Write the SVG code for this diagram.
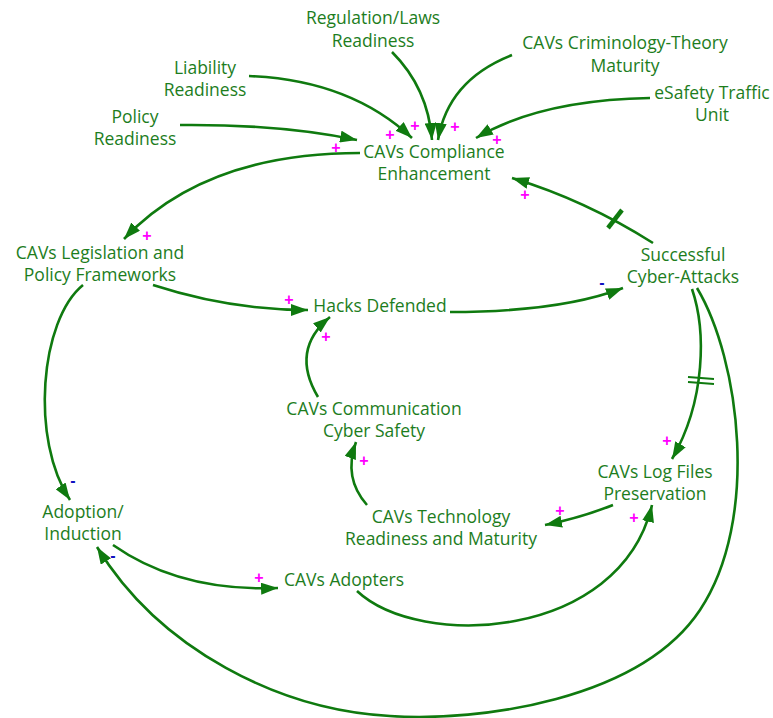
<svg xmlns="http://www.w3.org/2000/svg" width="773" height="718" viewBox="0 0 773 718">
<defs>
<marker id="ah" markerUnits="userSpaceOnUse" markerWidth="18" markerHeight="12" viewBox="0 0 18 12" refX="17" refY="6" orient="auto">
<path d="M0,0 L17,6 L0,12 Z" fill="#0f7a0f"/>
</marker>
<style>
.t{font-family:"Open Sans","Liberation Sans",sans-serif;font-size:17.5px;fill:#1d7d1d;text-anchor:middle}
.c{fill:none;stroke:#0f7a0f;stroke-width:2.6;marker-end:url(#ah)}
.d{fill:none;stroke:#0f7a0f}
.p{font-family:"Liberation Sans",sans-serif;font-size:16px;font-weight:bold;fill:#ff00ff;text-anchor:middle}
.m{font-family:"Liberation Sans",sans-serif;font-size:16px;font-weight:bold;fill:#1010c0;text-anchor:middle}
</style>
</defs>
<rect width="773" height="718" fill="#fff"/>
<g id="connectors">
<path class="c" d="M392,52 Q428,88 432,140"/>
<path class="c" d="M512,55 Q448,80 438,140"/>
<path class="c" d="M650,98 Q540,100 476,138"/>
<path class="c" d="M249,76 Q350,80 412,138"/>
<path class="c" d="M180,125 Q280,124 357,140"/>
<path class="c" d="M360,153 Q205,153 124,239"/>
<path class="c" d="M653,243 Q585,200 512,178"/>
<path class="d" d="M608,228 L622,210" stroke-width="4.5"/>
<path class="c" d="M153,285 Q230,310 308,310"/>
<path class="c" d="M83,285 C40,320 30,440 70,500"/>
<path class="c" d="M450,312 Q560,312 623,288"/>
<path class="c" d="M318,397 Q290,350 330,317"/>
<path class="c" d="M367,505 Q343,478 356,442"/>
<path class="c" d="M692,289 C706,330 706,400 672,459"/>
<path class="d" d="M688,377 L714,379 M688,382 L714,384" stroke-width="2"/>
<path class="c" d="M697,288 C740,360 760,520 700,610 C640,700 480,722 390,716 C280,710 160,650 97,547"/>
<path class="c" d="M113,545 Q180,592 278,588"/>
<path class="c" d="M357,591 C420,650 620,640 652,505"/>
<path class="c" d="M613,505 Q580,518 545,525"/>
</g>
<g id="regulation"><text class="t" x="373" y="24">Regulation/Laws</text><text class="t" x="373" y="47">Readiness</text></g>
<g id="criminology"><text class="t" x="625" y="49">CAVs Criminology-Theory</text><text class="t" x="625" y="72">Maturity</text></g>
<g id="liability"><text class="t" x="205" y="74">Liability</text><text class="t" x="205" y="96">Readiness</text></g>
<g id="esafety"><text class="t" x="712" y="99">eSafety Traffic</text><text class="t" x="712" y="121">Unit</text></g>
<g id="policy"><text class="t" x="135" y="123">Policy</text><text class="t" x="135" y="145">Readiness</text></g>
<g id="compliance"><text class="t" x="434" y="158">CAVs Compliance</text><text class="t" x="434" y="180">Enhancement</text></g>
<g id="legislation"><text class="t" x="100" y="259">CAVs Legislation and</text><text class="t" x="100" y="281">Policy Frameworks</text></g>
<g id="successful"><text class="t" x="683" y="261">Successful</text><text class="t" x="683" y="283">Cyber-Attacks</text></g>
<g id="hacks"><text class="t" x="380" y="312">Hacks Defended</text></g>
<g id="communication"><text class="t" x="374" y="415">CAVs Communication</text><text class="t" x="374" y="437">Cyber Safety</text></g>
<g id="logfiles"><text class="t" x="655" y="478">CAVs Log Files</text><text class="t" x="655" y="500">Preservation</text></g>
<g id="technology"><text class="t" x="441" y="523">CAVs Technology</text><text class="t" x="441" y="545">Readiness and Maturity</text></g>
<g id="adoption"><text class="t" x="83" y="518">Adoption/</text><text class="t" x="83" y="540">Induction</text></g>
<g id="adopters"><text class="t" x="344" y="586">CAVs Adopters</text></g>
<g id="polarities">
<text class="p" x="415" y="131">+</text>
<text class="p" x="390" y="140">+</text>
<text class="p" x="455" y="132">+</text>
<text class="p" x="497" y="145">+</text>
<text class="p" x="336" y="153">+</text>
<text class="p" x="525" y="200">+</text>
<text class="p" x="147" y="241">+</text>
<text class="p" x="289" y="305">+</text>
<text class="p" x="326" y="342">+</text>
<text class="m" x="602" y="288">-</text>
<text class="p" x="364" y="466">+</text>
<text class="p" x="667" y="446">+</text>
<text class="p" x="560" y="516">+</text>
<text class="p" x="634" y="523">+</text>
<text class="m" x="73" y="486">-</text>
<text class="m" x="113" y="561">-</text>
<text class="p" x="259" y="583">+</text>
</g>
</svg>
